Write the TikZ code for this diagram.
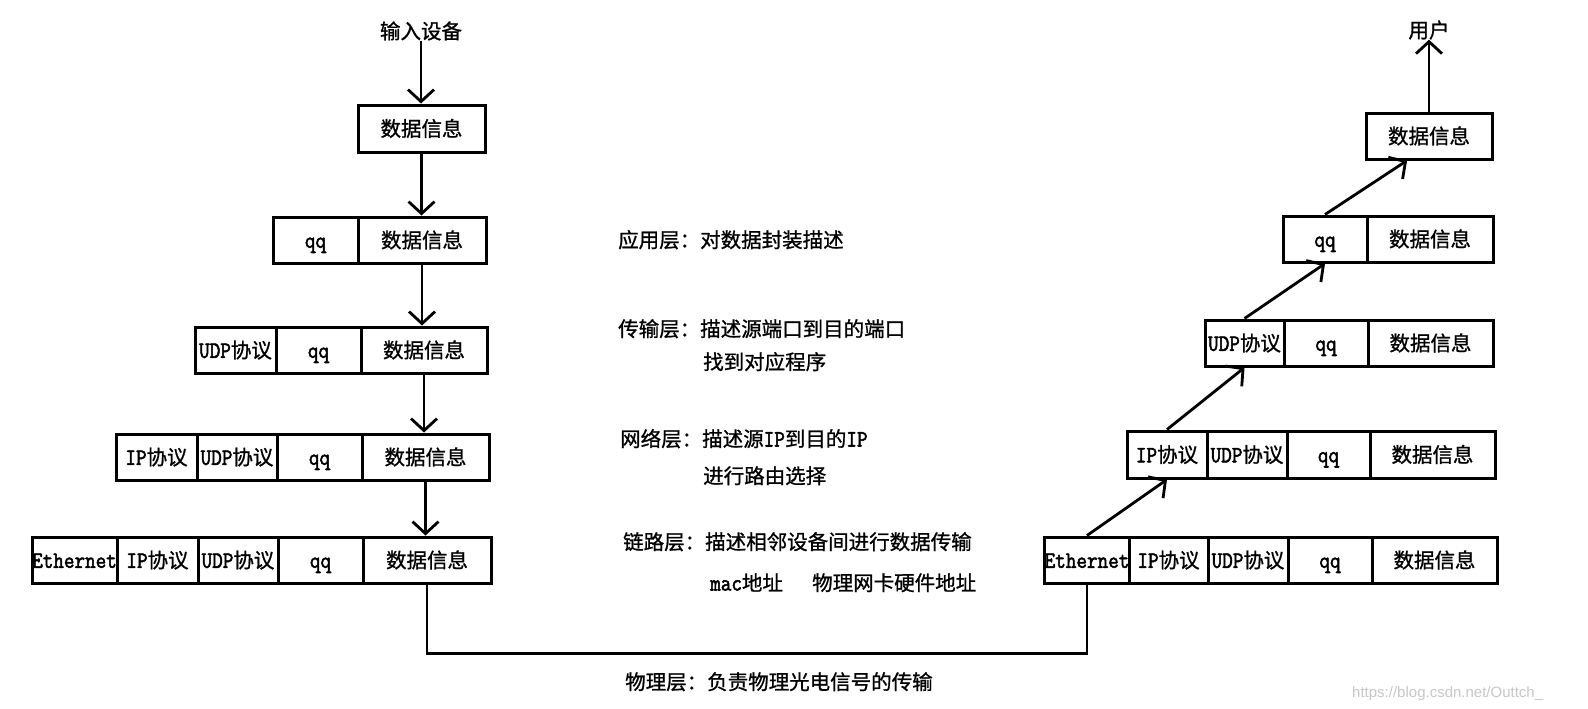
\documentclass[tikz,border=0pt]{standalone}
\usepackage{fontspec}
\setmainfont{Noto Sans CJK SC}[FakeBold=1]
\newfontfamily\latfont{Latin Modern Mono}[FakeBold=2.2,Scale=1.14,FakeStretch=0.88]
\newfontfamily\wmfont{Liberation Sans}
\usetikzlibrary{arrows.meta,calc}
\newcommand\la[1]{{\latfont #1}}
\newcommand\cellbox[6]{%
  \pgfmathsetmacro\cellW{#3-#2}\pgfmathsetmacro\cellH{#5-#4}%
  \pgfmathsetmacro\cellX{(#2+#3)/2}\pgfmathsetmacro\cellY{(#4+#5)/2}%
  \node[cell, minimum width=\cellW pt, minimum height=\cellH pt] (#1) at (\cellX,\cellY) {#6};}
\begin{document}
\begin{tikzpicture}[x=1pt,y=-1pt,
  cell/.style={draw, line width=3pt, inner sep=0pt, text height=18pt, text depth=2.4pt, font=\fontsize{20.5}{24}\selectfont},
  conn/.style={line width=2.8pt, -{Straight Barb[length=12pt,width=26pt,line width=2.8pt]}},
  wire/.style={line width=2.8pt},
  lbl/.style={anchor=base west, inner sep=0pt, font=\fontsize{20.5}{24}\selectfont},
  endlbl/.style={inner sep=0pt, font=\fontsize{20.5}{24}\selectfont}]
\useasboundingbox (0,0) rectangle (1588,709);
\fill[white] (0,0) rectangle (1588,709);
% left column
\cellbox{l1d}{358}{485}{105}{152}{数据信息}
\cellbox{l2q}{273}{358}{217}{263}{\la{qq}}
\cellbox{l2d}{358}{486}{217}{263}{数据信息}
\cellbox{l3u}{195}{276}{327}{373}{\la{UDP}协议}
\cellbox{l3q}{276}{361}{327}{373}{\la{qq}}
\cellbox{l3d}{361}{487}{327}{373}{数据信息}
\cellbox{l4i}{116}{197}{434}{480}{\la{IP}协议}
\cellbox{l4u}{197}{277}{434}{480}{\la{UDP}协议}
\cellbox{l4q}{277}{362}{434}{480}{\la{qq}}
\cellbox{l4d}{362}{489}{434}{480}{数据信息}
\cellbox{l5e}{32}{117}{537}{583}{\la{Ethernet}}
\cellbox{l5i}{117}{198}{537}{583}{\la{IP}协议}
\cellbox{l5u}{198}{278}{537}{583}{\la{UDP}协议}
\cellbox{l5q}{278}{363}{537}{583}{\la{qq}}
\cellbox{l5d}{363}{491}{537}{583}{数据信息}
% right column
\cellbox{r1d}{1366}{1492}{113}{159}{数据信息}
\cellbox{r2q}{1283}{1367}{216}{262}{\la{qq}}
\cellbox{r2d}{1367}{1493}{216}{262}{数据信息}
\cellbox{r3u}{1205}{1284}{320}{366}{\la{UDP}协议}
\cellbox{r3q}{1284}{1368}{320}{366}{\la{qq}}
\cellbox{r3d}{1368}{1493}{320}{366}{数据信息}
\cellbox{r4i}{1127}{1207}{431}{478}{\la{IP}协议}
\cellbox{r4u}{1207}{1287}{431}{478}{\la{UDP}协议}
\cellbox{r4q}{1287}{1370}{431}{478}{\la{qq}}
\cellbox{r4d}{1370}{1495}{431}{478}{数据信息}
\cellbox{r5e}{1045}{1129}{537}{583}{\la{Ethernet}}
\cellbox{r5i}{1129}{1208}{537}{583}{\la{IP}协议}
\cellbox{r5u}{1208}{1288}{537}{583}{\la{UDP}协议}
\cellbox{r5q}{1288}{1372}{537}{583}{\la{qq}}
\cellbox{r5d}{1372}{1497}{537}{583}{数据信息}
% end labels
\node[endlbl] (in) at (421,31) {输入设备};
\node[endlbl] (user) at (1429,30) {用户};
% connectors
\draw[conn] (in.south) -- (in.south |- l1d.north);
\draw[conn] (l1d.south) -- (l1d.south |- l2d.north);
\draw[conn] (l2d.south) -- (l2d.south |- l3d.north);
\draw[conn] (l3d.south) -- (l3d.south |- l4d.north);
\draw[conn] (l4d.south) -- (l4d.south |- l5d.north);
\draw[wire] (l5d.south) -- ++(0,69) coordinate (phy) -| (r5e.south);
\draw[conn] (r5e.north) -- (r4i.south);
\draw[conn] (r4i.north) -- (r3u.south);
\draw[conn] (r3u.north) -- (r2q.south);
\draw[conn] (r2q.north) -- ($(r1d.south west)!0.33!(r1d.south east)$);
\draw[conn] (r1d.north) -- (r1d.north |- user.south);
% layer descriptions
\node[lbl] (t1) at (618,247.5) {应用层：对数据封装描述};
\node[lbl] (t2) at (618,336.5) {传输层：描述源端口到目的端口};
\node[lbl] (t2b) at (703,369.5) {找到对应程序};
\node[lbl] (t3) at (620,446.5) {网络层：描述源\la{IP}到目的\la{IP}};
\node[lbl] (t3b) at (703,483.5) {进行路由选择};
\node[lbl] (t4) at (623,549.5) {链路层：描述相邻设备间进行数据传输};
\node[lbl] (t4b) at (710,590.5) {\la{mac}地址};
\node[lbl] (t4c) at (812,590.5) {物理网卡硬件地址};
\node[lbl] (t5) at (625,689.5) {物理层：负责物理光电信号的传输};
\node[anchor=base west, inner sep=0pt, text=black!22, font=\wmfont\fontsize{15}{18}\selectfont] (wm) at (1352,697) {https://blog.csdn.net/Outtch\_};
\end{tikzpicture}
\end{document}
